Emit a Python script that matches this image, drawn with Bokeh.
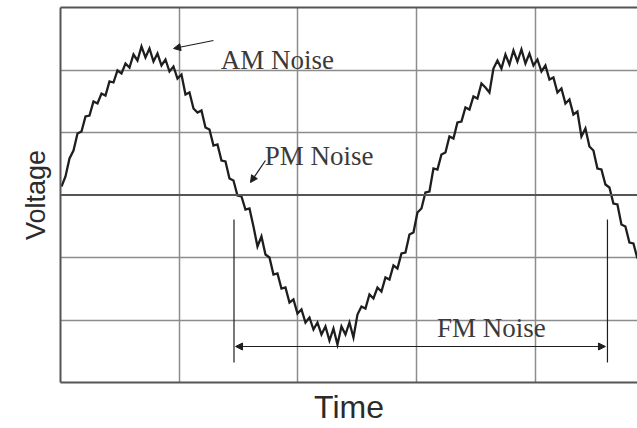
from bokeh.plotting import figure
from bokeh.models import (Range1d, FixedTicker, LinearAxis, Span, Label, Arrow,
                          NormalHead)
from bokeh.embed import file_html
from bokeh.resources import INLINE
import numpy as np

# Sampled waveform: voltage in grid divisions, one sample every SAMPLE_STEP divisions of time
SAMPLE_START = 0.0084
SAMPLE_STEP = 0.03368
VOLTS = [
    0.136, 0.296, 0.584, 0.712, 0.984, 1.016, 1.256, 1.272, 1.496, 1.464,
    1.624, 1.592, 1.816, 1.800, 1.992, 1.944, 2.104, 2.040, 2.248, 2.152,
    2.376, 2.200, 2.344, 2.136, 2.264, 2.072, 2.168, 1.976, 2.056, 1.864,
    1.928, 1.608, 1.640, 1.384, 1.320, 1.352, 1.080, 1.048, 0.792, 0.808,
    0.552, 0.536, 0.264, 0.232, -0.008, -0.024, -0.232, -0.216, -0.504, -0.824,
    -0.664, -0.952, -1.000, -1.272, -1.256, -1.496, -1.480, -1.720, -1.672, -1.896,
    -1.832, -2.040, -1.960, -2.152, -2.040, -2.232, -2.104, -2.328, -2.136, -2.392,
    -2.104, -2.232, -2.040, -2.280, -1.912, -1.784, -1.816, -1.592, -1.656, -1.480,
    -1.544, -1.320, -1.352, -1.128, -1.176, -0.936, -0.920, -0.632, -0.600, -0.280,
    -0.216, 0.040, 0.056, 0.424, 0.408, 0.648, 0.680, 0.936, 0.904, 1.160,
    1.176, 1.400, 1.368, 1.576, 1.544, 1.784, 1.720, 1.640, 2.024, 2.152,
    2.024, 2.248, 2.088, 2.312, 2.136, 2.328, 2.104, 2.264, 2.072, 2.168,
    1.976, 2.072, 1.848, 1.880, 1.640, 1.704, 1.464, 1.528, 1.288, 1.336,
    0.936, 1.064, 0.776, 0.712, 0.424, 0.408, 0.168, 0.120, -0.136, -0.152,
    -0.472, -0.504, -0.760, -0.776, -1.016,
]
TIME_GRID = [1, 2, 3, 4]
VOLT_GRID = [-2, -1, 1, 2]

times = SAMPLE_START + SAMPLE_STEP * np.arange(len(VOLTS))

INK = "#1e1e1e"
GRID = "#8c8c8c"
FRAME = "#555555"
SERIF = "Liberation Serif"
SANS = "Liberation Sans"

p = figure(width=637, height=428, output_backend="svg", toolbar_location=None,
           x_range=Range1d(0, 4.859), y_range=Range1d(-3, 3),
           x_axis_location=None, y_axis_location=None,
           min_border_left=60, min_border_right=0, min_border_top=7,
           min_border_bottom=46, outline_line_color=None,
           background_fill_color="white", border_fill_color="white")

# Frame lines and axis titles
def frame_axis(label=None, **kw):
    ax = LinearAxis(ticker=FixedTicker(ticks=[]), axis_line_color=FRAME,
                    axis_line_width=2, major_tick_out=0, minor_tick_out=0,
                    major_label_text_font_size="0px", **kw)
    if label:
        ax.axis_label = label
        ax.axis_label_text_font = SANS
        ax.axis_label_text_font_style = "normal"
        ax.axis_label_text_color = "#2b2b2b"
    return ax

left = frame_axis("Voltage", axis_label_standoff=10, axis_label_text_font_size="27px")
bottom = frame_axis("Time", axis_label_standoff=6, axis_label_text_font_size="32px")
top = frame_axis()
p.add_layout(left, "left")
p.add_layout(bottom, "below")
p.add_layout(top, "above")

p.xgrid.ticker = FixedTicker(ticks=TIME_GRID)
p.ygrid.ticker = FixedTicker(ticks=VOLT_GRID)
for g in (p.xgrid, p.ygrid):
    g.grid_line_color = GRID
    g.grid_line_width = 1.5

p.add_layout(Span(location=0, dimension="width", line_color=FRAME, line_width=2))

p.line(times, VOLTS, line_color=INK, line_width=2.3, line_join="miter")

# Annotations
def note(x, y, text):
    p.add_layout(Label(x=x, y=y, text=text, text_font=SERIF, text_font_size="27px",
                       text_color="#3a3a3a", text_baseline="alphabetic"))

def arrow(x0, y0, x1, y1, start=False, end=True):
    head = lambda: NormalHead(size=7, fill_color=INK, line_color=INK)
    p.add_layout(Arrow(x_start=x0, y_start=y0, x_end=x1, y_end=y1,
                       start=head() if start else None, end=head() if end else None,
                       line_color=INK, line_width=1.2))

note(1.35, 2.16, "AM Noise")
arrow(1.288, 2.472, 0.952, 2.344)

note(1.72, 0.63, "PM Noise")
arrow(1.726, 0.552, 1.600, 0.200)

note(3.17, -2.12, "FM Noise")
arrow(1.474, -2.424, 4.589, -2.424, start=True)
arrow(1.461, -0.392, 1.461, -2.680, end=False)
arrow(4.606, -0.392, 4.606, -2.680, end=False)

open("out.html", "w").write(file_html(p, INLINE))
